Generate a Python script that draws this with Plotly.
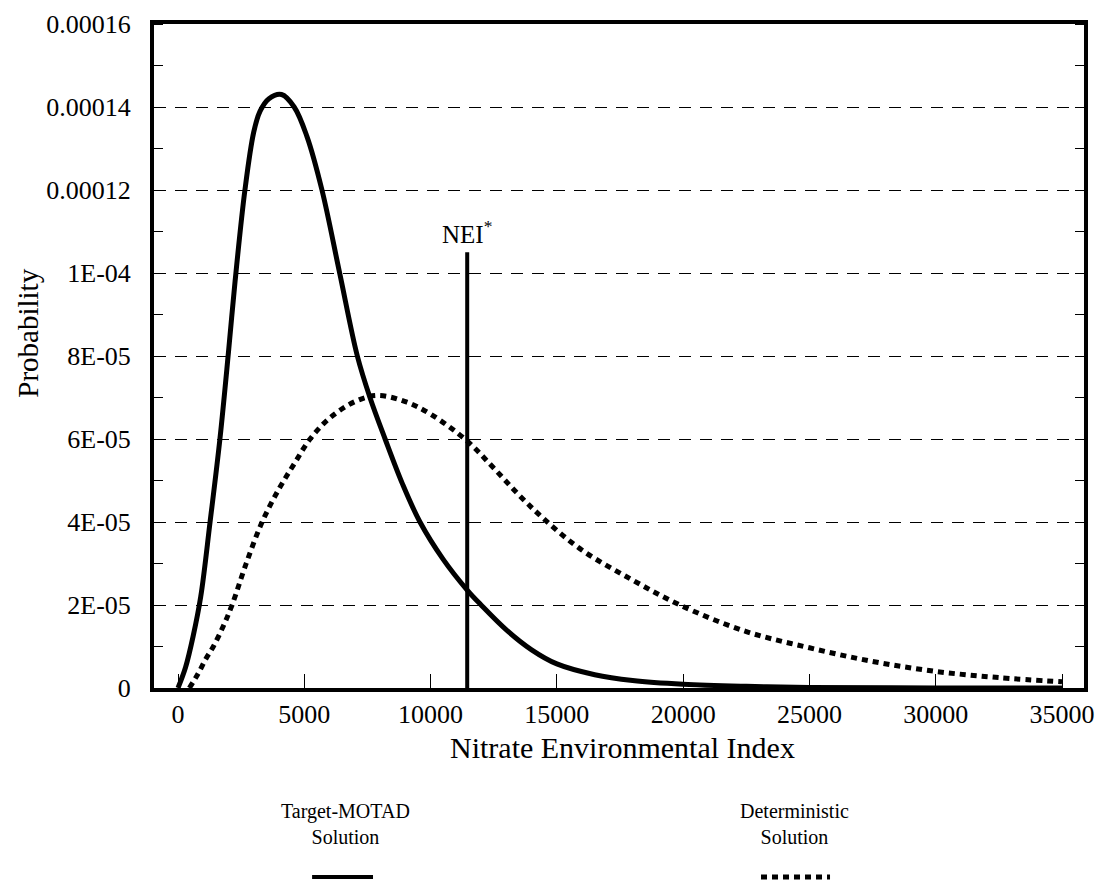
import plotly.graph_objects as go
import numpy as np

# ---- data (probability values in units of 1e-5) ----
motad_x = [0, 300, 600, 900, 1270, 1660, 2000, 2260, 2650, 3000, 3250, 3600, 4100, 4600,
           5100, 5700, 6400, 7100, 7600, 8200, 8900, 9580, 10500, 11450, 12000, 13000,
           14000, 15000, 16500, 18000, 20000, 22500, 25000, 30000, 35000]
motad_y = [0, 0.5, 1.25, 2.2, 4.0, 6.0, 8.1, 9.8, 12.0, 13.4, 13.9, 14.2, 14.3, 14.0,
           13.3, 12.0, 10.0, 8.0, 7.0, 6.0, 4.9, 4.0, 3.1, 2.36, 2.0, 1.4,
           0.92, 0.58, 0.32, 0.18, 0.09, 0.04, 0.015, 0.003, 0.0]

determ_x = [450, 800, 1100, 1400, 1800, 2140, 2700, 3330, 4000, 4600, 5230, 6000, 7000,
            7900, 9000, 10000, 11450, 12500, 13500, 14530, 16000, 18000, 19870, 22500,
            25000, 27500, 30000, 32500, 35000]
determ_y = [0, 0.35, 0.7, 1.0, 1.5, 2.0, 3.0, 4.0, 4.8, 5.4, 6.0, 6.5, 6.9,
            7.05, 6.9, 6.6, 5.95, 5.3, 4.65, 4.05, 3.32, 2.6, 2.0, 1.36,
            0.97, 0.64, 0.4, 0.25, 0.15]

nei_x = 11450
nei_top = 10.5

y_tickvals = [0, 2e-5, 4e-5, 6e-5, 8e-5, 1e-4, 1.2e-4, 1.4e-4, 1.6e-4]
y_ticktext = ["0", "2E-05", "4E-05", "6E-05", "8E-05", "1E-04", "0.00012", "0.00014", "0.00016"]
x_tickvals = [0, 5000, 10000, 15000, 20000, 25000, 30000, 35000]
x_ticktext = ["0", "5000", "10000", "15000", "20000", "25000", "30000", "35000"]

series_names = ["Target-MOTAD<br>Solution", "Deterministic<br>Solution"]

SCALE = 1e-5
FONT = "Liberation Serif, Times New Roman, serif"

fig = go.Figure()
fig.add_trace(go.Scatter(x=motad_x, y=np.array(motad_y) * SCALE, mode="lines",
                         line=dict(color="black", width=5, shape="spline", smoothing=1.0),
                         showlegend=False))
fig.add_trace(go.Scatter(x=determ_x, y=np.array(determ_y) * SCALE, mode="lines",
                         line=dict(color="black", width=5, dash="6px,5px", shape="spline", smoothing=1.0),
                         showlegend=False))
fig.add_trace(go.Scatter(x=[nei_x, nei_x], y=[0, nei_top * SCALE], mode="lines",
                         line=dict(color="black", width=4), showlegend=False))

fig.add_annotation(x=nei_x, y=nei_top * SCALE, xref="x", yref="y", text="NEI<sup>*</sup>",
                   showarrow=False, yanchor="bottom", yshift=2,
                   font=dict(family=FONT, size=25, color="black"))

# axis titles
fig.add_annotation(x=0.504, y=-0.089, xref="paper", yref="paper", text="Nitrate Environmental Index",
                   showarrow=False, xanchor="center", yanchor="middle",
                   font=dict(family=FONT, size=30, color="black"))
fig.add_annotation(x=-0.1355, y=0.535, xref="paper", yref="paper", text="Probability",
                   showarrow=False, textangle=-90, xanchor="center", yanchor="middle",
                   font=dict(family=FONT, size=29, color="black"))

# legend block
leg_x = [0.2054, 0.689]
for name, lx in zip(series_names, leg_x):
    fig.add_annotation(x=lx, y=-0.2048, xref="paper", yref="paper", text=name,
                       showarrow=False, xanchor="center", yanchor="middle",
                       font=dict(family=FONT, size=20, color="black"))
fig.add_shape(type="line", xref="paper", yref="paper", x0=0.170, x1=0.2355, y0=-0.2846, y1=-0.2846,
              line=dict(color="black", width=4))
fig.add_shape(type="line", xref="paper", yref="paper", x0=0.6527, x1=0.7269, y0=-0.2846, y1=-0.2846,
              line=dict(color="black", width=5, dash="6px,5px"))

fig.update_layout(
    width=1099, height=884,
    margin=dict(l=154, r=15, t=24, b=196),
    paper_bgcolor="white", plot_bgcolor="white",
    font=dict(family=FONT, size=26, color="black"),
    showlegend=False,
)
fig.update_xaxes(range=[-950, 35870], tickmode="array", tickvals=x_tickvals, ticktext=x_ticktext,
                 ticks="inside", ticklen=14, tickwidth=1, tickcolor="black", automargin=False,
                 showgrid=False, zeroline=False, showline=True, linewidth=4, linecolor="black",
                 mirror=True, ticklabelstandoff=0, tickfont=dict(family=FONT, size=26))
fig.update_yaxes(range=[0, 0.00016], tickmode="array", tickvals=y_tickvals, ticktext=y_ticktext,
                 ticks="", showgrid=True, gridcolor="black", gridwidth=1, griddash="12px,9px",
                 automargin=False,
                 zeroline=False, showline=True, linewidth=4, linecolor="black", mirror="allticks",
                 ticklabelstandoff=14, tickfont=dict(family=FONT, size=26),
                 minor=dict(dtick=1e-5, tick0=0, ticks="inside", ticklen=9, tickwidth=1,
                            tickcolor="black", showgrid=False))

fig.write_html("out.html", config={"displayModeBar": False},
               post_script="document.body.style.margin='0';document.body.style.overflow='hidden';")
